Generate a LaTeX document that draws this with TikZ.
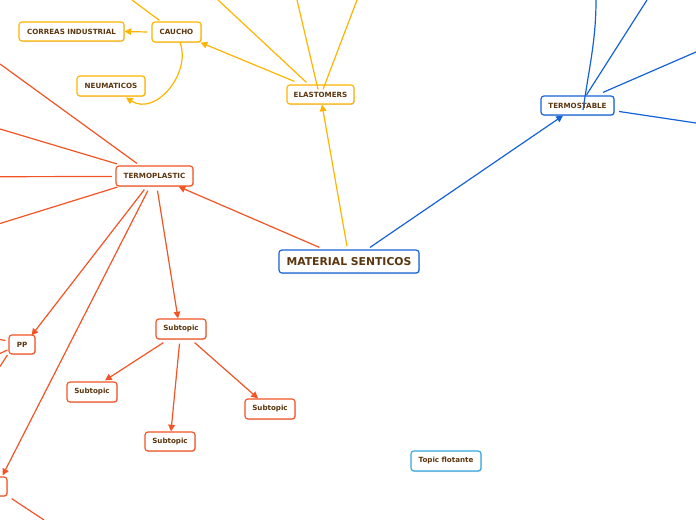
\documentclass[tikz,border=0pt]{standalone}
\usepackage{fontspec}
\setmainfont{DejaVu Sans}
\usetikzlibrary{arrows.meta,calc,shadows}
\definecolor{cblue}{RGB}{20,98,214}
\definecolor{cyel}{RGB}{255,180,0}
\definecolor{corg}{RGB}{242,84,36}
\definecolor{ctxt}{RGB}{92,54,14}
\definecolor{cflo}{RGB}{52,166,224}
\tikzset{
  bw/.style={minimum width=#1*0.75pt},
  bh/.style={minimum height=#1*0.75pt},
  topic/.style={draw, fill=white, rounded corners=2.2pt, line width=0.9pt, inner sep=0pt,
    text=ctxt, font=\fontsize{5.35}{6}\selectfont\bfseries,
    drop shadow={shadow xshift=0.6pt, shadow yshift=-0.8pt, fill=black!22, opacity=0.6}},
  bigtopic/.style={topic, font=\fontsize{8.1}{9}\selectfont\bfseries},
  bl/.style={draw=cblue},
  yl/.style={draw=cyel},
  og/.style={draw=corg},
  conn/.style={line width=0.9pt},
  arr/.style={conn, -{Triangle[length=5pt,width=5pt]}},
}
\begin{document}
\begin{tikzpicture}[x=0.75pt,y=-0.75pt]
\useasboundingbox (0,0) rectangle (696,520);
\clip (0,0) rectangle (696,520);
% nodes
\node[bigtopic, bl, bw=140, bh=23] (ms) at (349,261.5) {MATERIAL SENTICOS};
\node[topic, bl, bw=73, bh=19] (ts) at (577.5,105.5) {TERMOSTABLE};
\node[topic, yl, bw=67, bh=19] (el) at (320.5,94.5) {ELASTOMERS};
\node[topic, yl, bw=49, bh=20] (ca) at (176.5,32) {CAUCHO};
\node[topic, yl, bw=105, bh=19] (co) at (71.5,31.5) {CORREAS INDUSTRIAL};
\node[topic, yl, bw=68, bh=20] (ne) at (111,86) {NEUMATICOS};
\node[topic, og, bw=77, bh=20] (tp) at (154.5,176) {TERMOPLASTIC};
\node[topic, og, bw=26, bh=19] (pp) at (22,344.5) {PP};
\node[topic, og, bw=50, bh=20] (s0) at (181,329) {Subtopic};
\node[topic, og, bw=50, bh=20] (s1) at (92,392) {Subtopic};
\node[topic, og, bw=50, bh=19] (s2) at (170,441.5) {Subtopic};
\node[topic, og, bw=50, bh=20] (s3) at (270,409) {Subtopic};
\node[topic, draw=cflo, bw=70, bh=20] (tf) at (446,461) {Topic flotante};
\node[topic, og, bw=27, bh=19] (bn) at (-6.5,486.5) {};
% free ends
\coordinate (b1) at (596,0);
\coordinate (b2) at (647,0);
\coordinate (b3) at (696,52);
\coordinate (b4) at (696,123);
\coordinate (y1) at (218,0);
\coordinate (y2) at (297,0);
\coordinate (y3) at (357,0);
\coordinate (y4) at (132,0);
\coordinate (o1) at (0,64);
\coordinate (o2) at (0,129);
\coordinate (o3) at (0,176.7);
\coordinate (o4) at (0,223.5);
\coordinate (p1) at (0,339.5);
\coordinate (p2) at (0,353.5);
\coordinate (p3) at (0,366.5);
\coordinate (q1) at (44,520);
% blue
\draw[arr, cblue] ($(ms.north)+(21,-2)$) -- ($(ts.south)+(-14.5,0)$);
\draw[conn, cblue] ($(ts.center)+(5.5,4.5)$) .. controls ($(ts.center)+(12,-40)$) and ($(b1)+(0,40)$) .. (b1);
\draw[conn, cblue] ($(ts.north)+(9,-0.5)$) -- (b2);
\draw[conn, cblue] ($(ts.north)+(25.5,-3)$) -- (b3);
\draw[conn, cblue] ($(ts.east)+(4.5,6)$) -- (b4);
% yellow
\draw[arr, cyel] ($(ms.north)+(-2,-3)$) -- ($(el.south)+(1.5,0)$);
\draw[arr, cyel] ($(el.north west)+(8,-3)$) -- ($(ca.south east)+(-1,0)$);
\draw[conn, cyel] ($(el.north west)+(20,-2)$) -- (y1);
\draw[conn, cyel] ($(el.north)+(-2.5,5)$) -- (y2);
\draw[conn, cyel] ($(el.north)+(2.5,5)$) -- (y3);
\draw[conn, cyel] ($(ca.north west)+(8,-1)$) -- (y4);
\draw[arr, cyel] ($(ca.west)+(-4,0)$) -- (co.east);
\draw[arr, cyel] ($(ca.south)+(3.5,0)$) .. controls ($(ca.south)+(15,30)$) and ($(ne.south)+(45,20)$) .. ($(ne.south)+(15,1)$);
% orange
\draw[arr, corg] ($(ms.north west)+(41,-2)$) -- ($(tp.south east)+(-15,0)$);
\draw[conn, corg] ($(tp.north west)+(21.5,-2)$) -- (o1);
\draw[conn, corg] ($(tp.north west)+(1.5,-1.5)$) -- (o2);
\draw[conn, corg] ($(tp.west)+(-3.5,0.5)$) -- (o3);
\draw[conn, corg] ($(tp.south west)+(2,0.5)$) -- (o4);
\draw[arr, corg] ($(tp.south west)+(29,3)$) -- ($(pp.north east)+(-4,1)$);
\draw[arr, corg] ($(tp.south west)+(32.5,4)$) -- ($(bn.north east)+(-5,-1)$);
\draw[arr, corg] ($(tp.south)+(3,4)$) -- ($(s0.north)+(-3,0)$);
\draw[conn, corg] ($(pp.west)+(-3,-4)$) -- (p1);
\draw[conn, corg] ($(pp.west)+(-1,5.5)$) -- (p2);
\draw[conn, corg] ($(pp.west)+(-1,10.5)$) -- (p3);
\draw[conn, corg] ($(bn.south east)+(4,2)$) -- (q1);
\draw[arr, corg] ($(s0.south west)+(8,3)$) -- ($(s1.north)+(13,-1)$);
\draw[arr, corg] ($(s0.south)+(-1.5,4)$) -- ($(s2.north)+(1,0)$);
\draw[arr, corg] ($(s0.south east)+(-12,3)$) -- ($(s3.north)+(-12,0)$);
\end{tikzpicture}
\end{document}
